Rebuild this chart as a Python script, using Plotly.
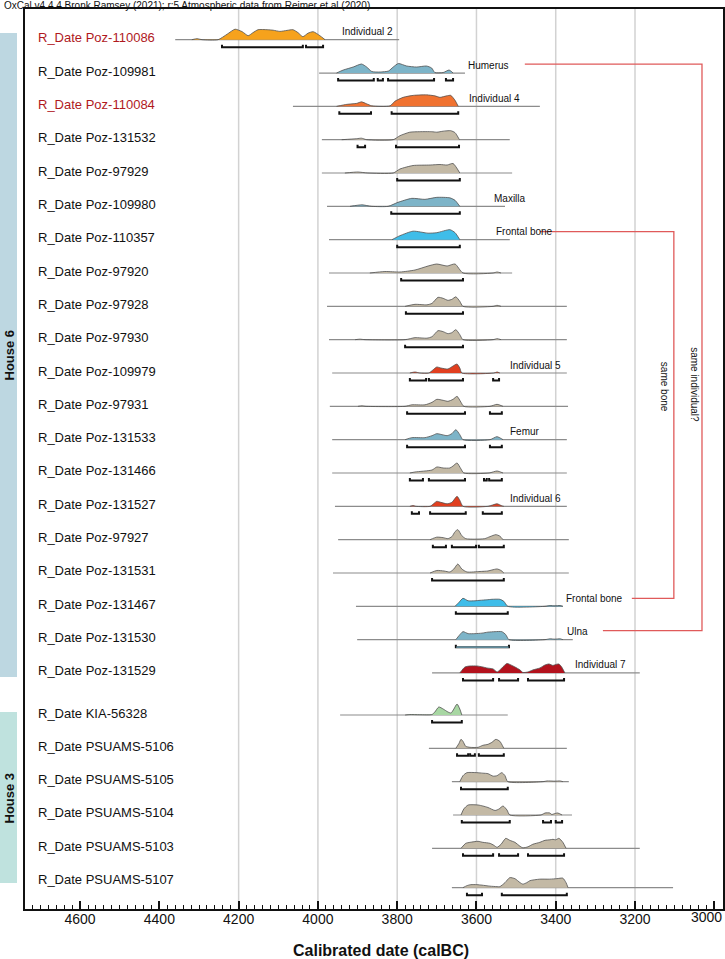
import plotly.graph_objects as go

# ---------------- data ----------------
LABELS = ["R_Date Poz-110086", "R_Date Poz-109981", "R_Date Poz-110084", "R_Date Poz-131532",
          "R_Date Poz-97929", "R_Date Poz-109980", "R_Date Poz-110357", "R_Date Poz-97920",
          "R_Date Poz-97928", "R_Date Poz-97930", "R_Date Poz-109979", "R_Date Poz-97931",
          "R_Date Poz-131533", "R_Date Poz-131466", "R_Date Poz-131527", "R_Date Poz-97927",
          "R_Date Poz-131531", "R_Date Poz-131467", "R_Date Poz-131530", "R_Date Poz-131529",
          "R_Date KIA-56328", "R_Date PSUAMS-5106", "R_Date PSUAMS-5105", "R_Date PSUAMS-5104",
          "R_Date PSUAMS-5103", "R_Date PSUAMS-5107"]
RED_LABELS = ["R_Date Poz-110086", "R_Date Poz-110084"]

NOTES = ["Individual 2", "Humerus", "Individual 4", "", "", "Maxilla", "Frontal bone", "", "", "",
         "Individual 5", "", "Femur", "", "Individual 6", "", "", "Frontal bone", "Ulna",
         "Individual 7", "", "", "", "", "", ""]

# calibration range drawn as the grey base line (calBC)
RANGE_FROM = [4360, 3997, 4063, 3990, 3990, 3977, 3972, 3972, 3977, 3972, 3964, 3970, 3964, 3964,
              3957, 3949, 3962, 3904, 3901, 3712, 3944, 3720, 3662, 3659, 3712, 3662]
RANGE_TO = [3795, 3629, 3440, 3516, 3510, 3528, 3516, 3510, 3372, 3372, 3372, 3369, 3372, 3372,
            3372, 3367, 3367, 3382, 3357, 3188, 3521, 3372, 3367, 3359, 3188, 3104]

DENS_YEARS = [
    [4318, 4305, 4292, 4252, 4229, 4209, 4191, 4176, 4164, 4151, 4128, 4113, 4096, 4078, 4063, 4050, 4038, 4025, 4012, 3995, 3982],
    [3953, 3936, 3911, 3890, 3877, 3864, 3843, 3822, 3810, 3797, 3776, 3751, 3726, 3713, 3705, 3684, 3669, 3659],
    [3953, 3927, 3902, 3890, 3877, 3864, 3818, 3806, 3785, 3759, 3726, 3705, 3692, 3675, 3665, 3654, 3646],
    [3940, 3902, 3890, 3877, 3810, 3793, 3768, 3743, 3713, 3700, 3684, 3665, 3654, 3643],
    [3932, 3899, 3874, 3810, 3793, 3760, 3717, 3692, 3674, 3659, 3642],
    [3919, 3889, 3864, 3823, 3798, 3763, 3730, 3700, 3667, 3654, 3642],
    [3813, 3793, 3760, 3722, 3700, 3667, 3654, 3642],
    [3869, 3831, 3793, 3755, 3722, 3700, 3674, 3654, 3634, 3558, 3548, 3538],
    [3780, 3755, 3725, 3712, 3697, 3684, 3672, 3662, 3652, 3642, 3634, 3558, 3548, 3538],
    [3906, 3894, 3881, 3780, 3755, 3725, 3712, 3697, 3684, 3672, 3662, 3652, 3642, 3634, 3558, 3548, 3538],
    [3768, 3755, 3743, 3720, 3710, 3700, 3690, 3672, 3659, 3649, 3642, 3637, 3556, 3548, 3541],
    [3899, 3889, 3879, 3780, 3763, 3730, 3712, 3700, 3684, 3672, 3659, 3649, 3639, 3632, 3566, 3548, 3533],
    [3780, 3763, 3730, 3712, 3700, 3674, 3662, 3652, 3642, 3634, 3566, 3548, 3533],
    [3768, 3755, 3712, 3700, 3684, 3667, 3659, 3649, 3639, 3632, 3568, 3548, 3533],
    [3768, 3760, 3753, 3717, 3707, 3700, 3690, 3674, 3662, 3649, 3642, 3634, 3571, 3548, 3536, 3531],
    [3717, 3700, 3684, 3672, 3662, 3654, 3647, 3637, 3627, 3604, 3579, 3566, 3551, 3541, 3533],
    [3717, 3700, 3682, 3667, 3657, 3647, 3637, 3624, 3591, 3571, 3561, 3548, 3538, 3531],
    [3654, 3644, 3634, 3621, 3604, 3591, 3574, 3561, 3541, 3531, 3521, 3427, 3415, 3402, 3389, 3382],
    [3652, 3644, 3634, 3621, 3604, 3586, 3571, 3553, 3536, 3526, 3518, 3427, 3415, 3402, 3389, 3382],
    [3642, 3629, 3616, 3599, 3584, 3574, 3558, 3548, 3541, 3531, 3523, 3513, 3503, 3490, 3483, 3470, 3458, 3440, 3427, 3417, 3407, 3400, 3392, 3385, 3377],
    [3780, 3768, 3743, 3712, 3705, 3695, 3684, 3672, 3664, 3657, 3649, 3642, 3637],
    [3652, 3644, 3639, 3634, 3627, 3616, 3596, 3584, 3571, 3561, 3551, 3541, 3531],
    [3642, 3634, 3624, 3599, 3584, 3571, 3558, 3548, 3536, 3528, 3521, 3432, 3422, 3402, 3389, 3382],
    [3639, 3632, 3621, 3596, 3584, 3571, 3553, 3543, 3533, 3523, 3516, 3437, 3427, 3415, 3410, 3402, 3395, 3384],
    [3639, 3627, 3616, 3596, 3584, 3566, 3556, 3548, 3538, 3526, 3516, 3503, 3490, 3483, 3470, 3458, 3440, 3427, 3415, 3407, 3400, 3392, 3382, 3374],
    [3634, 3624, 3614, 3599, 3586, 3566, 3548, 3541, 3528, 3516, 3503, 3490, 3483, 3473, 3465, 3440, 3415, 3397, 3382, 3374, 3369],
]
DENS_PROB = [
    [0, 1, 0, 0, 5.5, 10.5, 8, 4, 7, 10, 10, 9.5, 8.3, 9.3, 10, 7, 3, 6.5, 8, 4, 0],
    [0, 3, 6, 9, 6, 1.5, 1, 2, 6, 9.5, 7, 6, 7, 5, 0.5, 0.5, 3, 0],
    [0, 2, 3, 4.5, 2.5, 0.5, 0.5, 5, 9, 11, 11.5, 10.5, 9, 10.5, 11, 6, 0],
    [0, 1, 1.5, 0, 0, 4, 7.5, 8, 8, 7.5, 8.5, 9, 7, 0],
    [0, 1, 0, 0, 4, 7.5, 8, 8.5, 8, 9.5, 0],
    [0, 1.5, 0, 0, 4, 8, 7, 9, 8.5, 6, 0],
    [0, 4, 8.5, 6.5, 7, 10, 7, 0],
    [0, 1.5, 1, 3, 7, 9, 7, 9, 0, 0, 1, 0],
    [0, 2, 1.5, 3, 9, 8, 6, 7, 9.5, 5, 0, 0, 1, 0],
    [0, 0.5, 0, 0, 2, 1.5, 3, 9, 8, 6, 7, 10, 5, 0, 0, 1, 0],
    [0, 1, 0, 0, 3, 6, 5, 4, 7, 9, 5, 0, 0, 1, 0],
    [0, 0.5, 0, 0, 1.5, 1.5, 4, 7, 6, 5, 7, 10, 4, 0, 0, 2, 0],
    [0, 2, 2, 4, 6, 4, 6, 10, 5, 0, 0, 3, 0],
    [0, 1, 3, 6, 5, 5, 7, 10, 4, 0, 0, 2, 0],
    [0, 0.7, 0, 0, 3, 5, 4, 2.5, 4, 10, 6, 0, 0, 2.5, 0.5, 0],
    [0, 2.5, 2, 1, 3, 8, 10, 4, 1, 0.5, 1, 3, 5, 3.5, 0],
    [0, 2.5, 2, 1, 4, 9, 4, 1, 1.5, 2, 3, 4, 2.5, 0],
    [0, 4, 8, 5.5, 5.5, 6, 6.5, 7, 7, 5, 0, 0, 0.8, 0.5, 0.8, 0],
    [0, 4, 8, 6, 6, 6.5, 7.5, 8, 8, 5, 0, 0, 0.8, 0.5, 0.8, 0],
    [0, 6, 7, 7, 6, 5, 4, 1, 3, 7, 9.5, 8, 6, 3, 0.5, 1, 3, 5, 8, 9, 7.5, 8.5, 9, 6, 0],
    [0, 0.5, 0.3, 0.5, 3, 8, 6, 3, 2, 6, 11, 6, 0],
    [0, 5, 9, 7, 2, 1, 1, 3, 4, 6, 9, 7, 0],
    [0, 6, 9, 9, 8.5, 8, 5.5, 6, 9, 6, 0, 0, 0.7, 0.5, 0.7, 0],
    [0, 6, 10, 10, 9, 7.5, 4.5, 6, 9, 5, 0, 0, 2, 2, 0.5, 1.5, 2, 0],
    [0, 5, 6, 7, 6, 5, 3, 1, 4, 10, 8, 6, 2, 0.5, 1.5, 4, 6, 8, 8.5, 9, 8.5, 10, 6, 0],
    [0, 2, 3, 3, 2.5, 1.5, 1, 1, 5, 10, 9, 5, 3.5, 5, 7, 8.5, 8.5, 9, 9.5, 5, 0],
]
# 95.4% ranges (calBC)
RANGES_95 = [
    [(4242, 4038), (4030, 3987)],
    [(3949, 3859), (3849, 3836), (3823, 3707), (3677, 3659)],
    [(3946, 3866), (3814, 3646)],
    [(3900, 3881), (3803, 3644)],
    [(3800, 3642)],
    [(3815, 3642)],
    [(3800, 3642)],
    [(3790, 3634)],
    [(3778, 3634)],
    [(3780, 3634)],
    [(3768, 3727), (3720, 3634), (3558, 3543)],
    [(3775, 3629), (3566, 3536)],
    [(3775, 3629), (3566, 3536)],
    [(3768, 3735), (3720, 3629), (3581, 3574), (3568, 3536)],
    [(3763, 3745), (3717, 3627), (3584, 3536)],
    [(3710, 3677), (3662, 3601), (3594, 3531)],
    [(3712, 3531)],
    [(3652, 3521)],
    [(3652, 3518)],
    [(3634, 3558), (3543, 3495), (3470, 3379)],
    [(3712, 3637)],
    [(3649, 3621), (3616, 3604), (3594, 3531)],
    [(3639, 3521)],
    [(3637, 3516), (3432, 3412), (3400, 3384)],
    [(3634, 3558), (3543, 3495), (3470, 3379)],
    [(3624, 3586), (3536, 3372)],
]

TICK_YEARS = [4600, 4400, 4200, 4000, 3800, 3600, 3400, 3200, 3000]
GRID_YEARS = [4200, 4000, 3800, 3600, 3400, 3200]

# ---------------- styling / layout ----------------
ORANGE, BLUE, ORED, TAN = "#f6a21c", "#7db4c8", "#f07230", "#c3b9a5"
BBLUE, RED, DRED, GREEN = "#3fbde9", "#e13f1f", "#b3121d", "#a8d7a3"
FILLS = [ORANGE, BLUE, ORED, TAN, TAN, BLUE, BBLUE, TAN, TAN, TAN, RED, TAN, BLUE, TAN, RED,
         TAN, TAN, BBLUE, BLUE, DRED, GREEN, TAN, TAN, TAN, TAN, TAN]
NOTE_X = {0: 3944, 1: 3627, 2: 3624, 5: 3561, 6: 3556, 10: 3521, 12: 3521, 14: 3521,
          17: 3379, 18: 3377, 19: 3357}

W, H = 725, 959
ML, MR, MT, MB = 25, 2, 9, 50
PW, PH = W - ML - MR, H - MT - MB
Y_TOP, Y_BOT = MT, H - MB          # y axis uses pixel units
ROW0, STEP, GAP = 37.7, 33.33, 8.7
PX = 1.0                            # pixels per probability unit
FONT = "Liberation Sans, Arial, Helvetica, sans-serif"


def paper_x(px):
    return (px - ML) / PW


def paper_y(py):
    return (Y_BOT - py) / PH


n = len(LABELS)
label_y = [ROW0 + STEP * i + (GAP if i >= 20 else 0) for i in range(n)]
base_y = [y + (8 if i == n - 1 else 2) for i, y in enumerate(label_y)]

fig = go.Figure()

# base lines
bx, by = [], []
for i in range(n):
    bx += [RANGE_FROM[i], RANGE_TO[i], None]
    by += [base_y[i], base_y[i], None]
fig.add_trace(go.Scatter(x=bx, y=by, mode="lines", line=dict(color="#8c8c8c", width=1.2),
                         hoverinfo="skip", showlegend=False))

# densities
for i in range(n):
    ys = [base_y[i] - p * PX for p in DENS_PROB[i]]
    fig.add_trace(go.Scatter(x=DENS_YEARS[i], y=ys, mode="lines", fill="toself",
                             fillcolor=FILLS[i], line=dict(color="#505050", width=0.8,
                                                           shape="spline", smoothing=0.6),
                             hoverinfo="skip", showlegend=False))

# 95% range brackets
kx, ky = [], []
for i in range(n):
    yb = base_y[i] + 7.5
    for a, b in RANGES_95[i]:
        kx += [a, a, b, b, None]
        ky += [yb - 2.5, yb, yb, yb - 2.5, None]
fig.add_trace(go.Scatter(x=kx, y=ky, mode="lines", line=dict(color="#111111", width=2),
                         hoverinfo="skip", showlegend=False))
# Ulna bracket has a blue core
ui = LABELS.index("R_Date Poz-131530")
for a, b in RANGES_95[ui]:
    fig.add_trace(go.Scatter(x=[a - 1, b + 1], y=[base_y[ui] + 7.5] * 2, mode="lines",
                             line=dict(color="#7db4c8", width=1.2), hoverinfo="skip",
                             showlegend=False))

# red connector lines
r1, r18 = label_y[1] - 7, label_y[18] - 7
r6, r17 = label_y[6] - 6, label_y[17] - 6
fig.add_trace(go.Scatter(x=[3478, 3031, 3031, 3281], y=[r1, r1, r18, r18], mode="lines",
                         line=dict(color="#e05a5a", width=1.3), hoverinfo="skip", showlegend=False))
fig.add_trace(go.Scatter(x=[3440, 3102, 3102, 3208], y=[r6, r6, r17, r17], mode="lines",
                         line=dict(color="#e05a5a", width=1.3), hoverinfo="skip", showlegend=False))

shapes = []
for g in GRID_YEARS:
    shapes.append(dict(type="line", xref="x", yref="y domain", x0=g, x1=g, y0=0, y1=1,
                       line=dict(color="#d2d2d2", width=1.5), layer="below"))
# house bands
shapes.append(dict(type="rect", xref="paper", yref="y", x0=paper_x(0), x1=paper_x(17),
                   y0=33, y1=677, fillcolor="#bdd7e1", line=dict(width=0), layer="below"))
shapes.append(dict(type="rect", xref="paper", yref="y", x0=paper_x(0), x1=paper_x(17),
                   y0=712, y1=883, fillcolor="#bfe2de", line=dict(width=0), layer="below"))

ann = []
for i, lab in enumerate(LABELS):
    ann.append(dict(x=paper_x(36), xref="paper", y=label_y[i], yref="y", text=lab,
                    showarrow=False, xanchor="left", yanchor="middle",
                    font=dict(family=FONT, size=13,
                              color="#b0191e" if lab in RED_LABELS else "#111111")))
for i, t in enumerate(NOTES):
    if t:
        ann.append(dict(x=NOTE_X[i], xref="x", y=label_y[i] - 6, yref="y", text=t,
                        showarrow=False, xanchor="left", yanchor="middle",
                        font=dict(family=FONT, size=10, color="#111111")))
ann.append(dict(x=3049, xref="x", y=385, yref="y", text="same individual?", textangle=90,
                showarrow=False, xanchor="center", yanchor="middle",
                font=dict(family=FONT, size=10, color="#111111")))
ann.append(dict(x=3124, xref="x", y=387, yref="y", text="same bone", textangle=90,
                showarrow=False, xanchor="center", yanchor="middle",
                font=dict(family=FONT, size=10, color="#111111")))
ann.append(dict(x=paper_x(8.5), xref="paper", y=355, yref="y", text="<b>House 6</b>",
                textangle=-90, showarrow=False, xanchor="center", yanchor="middle",
                font=dict(family=FONT, size=13, color="#111111")))
ann.append(dict(x=paper_x(8.5), xref="paper", y=798, yref="y", text="<b>House 3</b>",
                textangle=-90, showarrow=False, xanchor="center", yanchor="middle",
                font=dict(family=FONT, size=13, color="#111111")))
ann.append(dict(x=paper_x(2), xref="paper", y=paper_y(5.5), yref="paper",
                text="OxCal v4.4.4 Bronk Ramsey (2021); r:5 Atmospheric data from Reimer et al (2020)",
                showarrow=False, xanchor="left", yanchor="middle",
                font=dict(family=FONT, size=10, color="#111111")))
ann.append(dict(x=paper_x(381), xref="paper", y=paper_y(950), yref="paper",
                text="<b>Calibrated date (calBC)</b>",
                showarrow=False, xanchor="center", yanchor="middle",
                font=dict(family=FONT, size=16, color="#111111")))
# last tick label kept inside the page edge
ann.append(dict(x=paper_x(723.5), xref="paper", y=paper_y(917.5), yref="paper",
                text=str(TICK_YEARS[-1]), showarrow=False, xanchor="right", yanchor="middle",
                font=dict(family=FONT, size=14, color="#111111")))

fig.update_layout(
    width=W, height=H, margin=dict(l=ML, r=MR, t=MT, b=MB, autoexpand=False),
    paper_bgcolor="white", plot_bgcolor="white",
    shapes=shapes, annotations=ann, showlegend=False,
    xaxis=dict(range=[4739, 2978], tickmode="array", tickvals=TICK_YEARS,
               ticktext=[str(t) for t in TICK_YEARS[:-1]] + [""],
               ticks="inside", ticklen=8, tickwidth=1.5,
               tickcolor="#111111", showgrid=False, zeroline=False, showline=True, mirror=True,
               linecolor="#111111", linewidth=2, automargin=False, ticklabelstandoff=-4,
               tickfont=dict(family=FONT, size=14, color="#111111"),
               minor=dict(tickmode="linear", tick0=3000, dtick=20, ticks="inside", ticklen=4,
                          tickcolor="#111111", tickwidth=1, showgrid=False)),
    yaxis=dict(range=[Y_BOT, Y_TOP], showticklabels=False, ticks="", showgrid=False,
               automargin=False, zeroline=False, showline=True, mirror=True,
               linecolor="#111111", linewidth=2),
)

fig.write_html("out.html", config={"displayModeBar": False},
               post_script="document.body.style.margin='0';document.body.style.overflow='hidden';")
